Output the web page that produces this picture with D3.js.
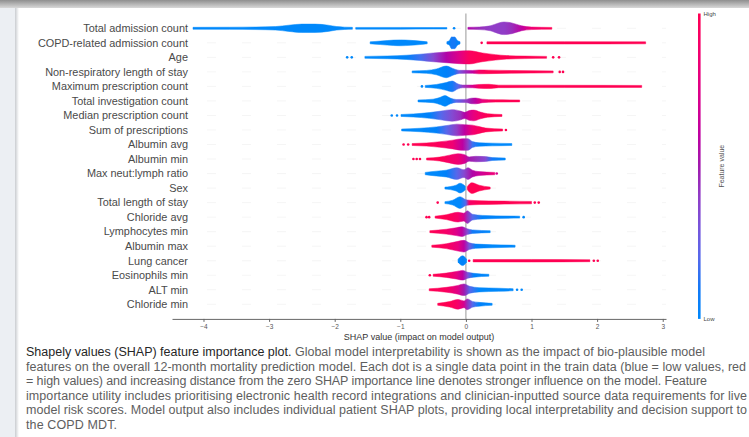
<!DOCTYPE html>
<html>
<head>
<meta charset="utf-8">
<script src="https://cdn.jsdelivr.net/npm/d3@7"></script>
<style>
html, body { margin: 0; padding: 0; background: #fff; }
svg { display: block; }
</style>
</head>
<body>
<svg width="749" height="437"></svg>
<script>
// feature names, most important first
const features = [
  "Total admission count", "COPD-related admission count", "Age",
  "Non-respiratory length of stay", "Maximum prescription count",
  "Total investigation count", "Median prescription count",
  "Sum of prescriptions", "Albumin avg", "Albumin min",
  "Max neut:lymph ratio", "Sex", "Total length of stay", "Chloride avg",
  "Lymphocytes min", "Albumin max", "Lung cancer", "Eosinophils min",
  "ALT min", "Chloride min"
];

// swarm outline per feature: segments of [shap, spread, feature value 0..1]
const swarm = [
  [ // Total admission count
    [[-4.16,1.0,0],[-3.6,1.1,0],[-3.2,1.3,0],[-2.9,1.8,0],[-2.7,3.2,0],[-2.5,4.3,0],[-2.3,4.3,0],[-2.1,3.2,0],[-1.97,1.8,0],[-1.85,1.2,0],[-1.73,1.0,0]],
    [[-1.68,0.9,0],[-1.0,0.9,0],[-0.5,0.8,0],[-0.29,0.8,0]],
    [[0.03,1.0,0.55],[0.2,1.3,0.45],[0.37,2.5,0.4],[0.5,5.5,0.4],[0.58,6.5,0.4],[0.7,5.5,0.45],[0.85,2.5,0.6],[1.0,1.3,0.85],[1.31,0.9,1]]
  ],
  [ // COPD-related admission count
    [[-1.46,1.0,0],[-1.3,1.8,0],[-1.1,2.8,0],[-1.0,3.0,0],[-0.85,2.6,0],[-0.7,1.8,0],[-0.59,1.0,0]],
    [[-0.29,1.2,0.05],[-0.25,2.5,0.05],[-0.22,6,0.1],[-0.17,6,0.1],[-0.13,2.5,0.05],[-0.09,1.2,0.05]],
    [[0.32,1.1,1],[1.5,1.2,1],[2.74,1.0,1]]
  ],
  [ // Age
    [[-1.54,1.0,0],[-1.2,1.4,0],[-0.9,2.2,0.05],[-0.7,3.2,0.15],[-0.5,4.5,0.35],[-0.3,5.5,0.55],[-0.1,6.5,0.75],[0.05,6.8,0.95],[0.25,4.5,1],[0.45,2.8,1],[0.62,1.8,1],[0.9,1.3,1],[1.23,1.0,1]]
  ],
  [ // Non-respiratory length of stay
    [[-0.82,1.0,0],[-0.6,1.5,0],[-0.45,3,0],[-0.3,6,0.05],[-0.18,3,0.1],[-0.1,1.6,0.3],[0.1,1.5,0.6],[0.2,2.0,0.9],[0.35,1.8,1],[0.7,1.4,1],[1.33,1.0,1]]
  ],
  [ // Maximum prescription count
    [[-0.62,1.0,0],[-0.45,2,0],[-0.3,4,0.05],[-0.21,5.5,0.1],[-0.12,2.5,0.2],[-0.05,1.4,0.4],[0.1,1.4,0.7],[0.2,2,0.95],[0.35,2.2,1],[0.5,1.3,1],[1.5,1.2,1],[2.68,1.0,1]]
  ],
  [ // Total investigation count
    [[-0.73,1.0,0],[-0.5,1.8,0],[-0.38,4,0],[-0.32,5.5,0],[-0.24,3,0.05],[-0.15,1.5,0.2],[0.0,1.6,0.4],[0.08,2.8,0.5],[0.15,3,0.6],[0.25,1.8,0.8],[0.45,1.2,1],[0.82,1.0,1]]
  ],
  [ // Median prescription count
    [[-0.99,1.0,0],[-0.8,1.6,0],[-0.55,3,0.05],[-0.38,4.5,0.2],[-0.21,6,0.35],[-0.08,4.5,0.45],[-0.02,3.2,0.55],[0.05,5,0.7],[0.12,5.5,0.8],[0.22,3.5,0.9],[0.33,1.8,1],[0.55,1.0,1]]
  ],
  [ // Sum of prescriptions
    [[-0.98,1.0,0],[-0.7,1.8,0],[-0.45,3.2,0.05],[-0.3,4.5,0.2],[-0.14,6,0.4],[-0.02,5.5,0.6],[0.1,5,0.85],[0.2,3.5,0.95],[0.3,2,1],[0.56,1.0,1]]
  ],
  [ // Albumin avg
    [[-0.82,1.0,1],[-0.6,1.6,1],[-0.4,2.8,0.95],[-0.2,4.5,0.85],[-0.05,6,0.6],[0.03,6,0.4],[0.1,3,0.15],[0.2,1.8,0.05],[0.4,1.4,0],[0.7,1.0,0]]
  ],
  [ // Albumin min
    [[-0.6,1.0,1],[-0.4,2,1],[-0.25,4,0.9],[-0.12,5.5,0.85],[-0.02,4.5,0.7],[0.05,2.2,0.5],[0.15,2.8,0.45],[0.3,2.5,0.35],[0.4,1.5,0.1],[0.6,1.0,0]]
  ],
  [ // Max neut:lymph ratio
    [[-0.62,1.2,0],[-0.45,2.5,0],[-0.3,3.5,0.05],[-0.14,6,0.2],[-0.03,4,0.35],[0.03,6,0.45],[0.1,3.5,0.55],[0.2,2.0,0.65],[0.44,1.2,0.85]]
  ],
  [ // Sex
    [[-0.32,1.0,0],[-0.15,3,0],[-0.09,5,0],[-0.01,2,0]],
    [[0.02,1.5,1],[0.09,5.5,1],[0.2,3,1],[0.37,1.0,1]]
  ],
  [ // Total length of stay
    [[-0.32,1.0,0],[-0.2,2.5,0],[-0.09,6,0],[0.0,3,0.2],[0.05,2.5,0.9],[0.2,2,1],[0.5,1.6,1],[1.0,1.2,1]]
  ],
  [ // Chloride avg
    [[-0.47,1.0,1],[-0.3,2.5,1],[-0.12,5,0.9],[-0.03,4,0.7],[0.02,6.5,0.45],[0.1,3,0.2],[0.25,1.8,0.05],[0.82,1.0,0]]
  ],
  [ // Lymphocytes min
    [[-0.55,1.0,1],[-0.3,2.5,0.9],[-0.15,4,0.75],[-0.06,5,0.6],[0.02,3,0.35],[0.1,1.8,0.1],[0.37,1.0,0]]
  ],
  [ // Albumin max
    [[-0.52,1.0,1],[-0.3,2.5,0.95],[-0.12,5,0.8],[-0.03,6,0.6],[0.05,3.5,0.3],[0.15,2.2,0.05],[0.4,1.6,0],[0.75,1.0,0]]
  ],
  [ // Lung cancer
    [[-0.12,1.5,0],[-0.05,5,0.05],[0.01,1.5,0]],
    [[0.11,1.2,1],[1.0,1.3,1],[1.89,1.0,1]]
  ],
  [ // Eosinophils min
    [[-0.5,1.0,1],[-0.3,2.2,0.95],[-0.15,3.8,0.8],[-0.05,5,0.6],[0.03,3,0.3],[0.12,2,0.05],[0.35,1.0,0]]
  ],
  [ // ALT min
    [[-0.56,1.0,1],[-0.3,2.5,0.95],[-0.12,4.5,0.75],[-0.03,6,0.5],[0.06,3.5,0.2],[0.2,2.2,0],[0.5,1.6,0],[0.72,1.0,0]]
  ],
  [ // Chloride min
    [[-0.43,1.0,1],[-0.25,2.8,1],[-0.12,5,0.9],[-0.03,3.5,0.7],[0.02,5.5,0.45],[0.1,3,0.2],[0.2,2,0.05],[0.4,1.0,0]]
  ]
];

// single points standing apart from the swarm: [shap, feature value]
const outliers = [
  [[-0.18,0]],
  [[0.24,1]],
  [[-1.81,0],[-1.74,0],[1.33,1],[1.42,1]],
  [[1.43,1],[1.48,1]],
  [[-0.67,0]],
  [],
  [[-1.13,0],[-1.05,0]],
  [[0.61,1]],
  [[-0.95,1],[-0.88,1]],
  [[-0.8,1],[-0.75,1],[-0.7,1]],
  [[0.47,0.7]],
  [],
  [[-0.43,1],[1.05,1],[1.11,1]],
  [[-0.6,1],[-0.56,1],[0.88,0]],
  [],
  [],
  [[0.05,1],[1.95,1],[2.01,1]],
  [[-0.55,1]],
  [[0.78,0],[0.85,0]],
  []
];

const xTicks = [-4, -3, -2, -1, 0, 1, 2, 3];
const xTitle = "SHAP value (impact on model output)";
const barTicks = ["High", "Low"];
const barTitle = "Feature value";

const captionLead = "Shapely values (SHAP) feature importance plot.";
const captionLines = [
  "Shapely values (SHAP) feature importance plot. Global model interpretability is shown as the impact of bio-plausible model",
  "features on the overall 12-month mortality prediction model. Each dot is a single data point in the train data (blue = low values, red",
  "= high values) and increasing distance from the zero SHAP importance line denotes stronger influence on the model. Feature",
  "importance utility includes prioritising electronic health record integrations and clinician-inputted source data requirements for live",
  "model risk scores. Model output also includes individual patient SHAP plots, providing local interpretability and decision support to",
  "the COPD MDT."
];

const svg = d3.select("svg");
const font = "'Liberation Sans', Arial, sans-serif";

// page background: grey strip on top, pale band on the left, white sheet
const defs = svg.append("defs");
const topGrad = defs.append("linearGradient").attr("id", "topband")
  .attr("x1", 0).attr("x2", 0).attr("y1", 0).attr("y2", 1);
topGrad.append("stop").attr("offset", 0).attr("stop-color", "#8f8f8f");
topGrad.append("stop").attr("offset", 1).attr("stop-color", "#d8d8d8");
const sideGrad = defs.append("linearGradient").attr("id", "sideshadow");
sideGrad.append("stop").attr("offset", 0).attr("stop-color", "#c9ccd0");
sideGrad.append("stop").attr("offset", 1).attr("stop-color", "#ffffff");

svg.append("rect").attr("width", 749).attr("height", 437).attr("fill", "#fff");
svg.append("rect").attr("width", 15).attr("height", 437).attr("fill", "#eceff3");
svg.append("rect").attr("x", 15).attr("y", 8).attr("width", 4).attr("height", 429).attr("fill", "url(#sideshadow)");
svg.append("rect").attr("width", 749).attr("height", 8).attr("fill", "url(#topband)");

// scales
const plotTop = 13.5, plotBottom = 318.9;
const x = d3.scaleLinear().domain([-4.48, 3.05]).range([172, 666]);
const y = d3.scalePoint().domain(features).range([28.3, 304.3]);
const spread = d3.scaleLinear().domain([0, 7]).range([0, 6.8]);
const featureColor = d3.piecewise(d3.interpolateHcl, [
  d3.hcl(266.9, 70, 54), d3.hcl(323.6, 80, 40), d3.hcl(20.3, 90, 54)
]);

// faint dashed row guides
svg.append("g").selectAll("line").data(features).join("line")
  .attr("x1", 172).attr("x2", 666)
  .attr("y1", d => y(d)).attr("y2", d => y(d))
  .attr("stroke", "#f3f3f3").attr("stroke-width", 0.8)
  .attr("stroke-dasharray", "9,26");

// zero line
svg.append("line")
  .attr("x1", x(0)).attr("x2", x(0))
  .attr("y1", plotTop).attr("y2", plotBottom)
  .attr("stroke", "#999").attr("stroke-width", 1);

// swarm bodies as shaded outlines
const swarmG = svg.append("g");
features.forEach((f, i) => {
  const cy = y(f);
  const area = d3.area()
    .x(d => x(d[0]))
    .y0(d => cy - spread(d[1]))
    .y1(d => cy + spread(d[1]))
    .curve(d3.curveMonotoneX);
  swarm[i].forEach((seg, j) => {
    const id = `sw-${i}-${j}`;
    const x0 = x(seg[0][0]), x1 = x(seg[seg.length - 1][0]);
    const g = defs.append("linearGradient").attr("id", id)
      .attr("gradientUnits", "userSpaceOnUse")
      .attr("x1", x0).attr("x2", x1).attr("y1", 0).attr("y2", 0);
    g.selectAll("stop").data(seg).join("stop")
      .attr("offset", d => (x(d[0]) - x0) / (x1 - x0))
      .attr("stop-color", d => featureColor(d[2]));
    swarmG.append("path")
      .datum(seg)
      .attr("d", area)
      .attr("fill", `url(#${id})`)
      .attr("stroke", `url(#${id})`)
      .attr("stroke-width", 0.5)
      .attr("stroke-linejoin", "round");
  });
  swarmG.selectAll(null).data(outliers[i]).join("circle")
    .attr("cx", d => x(d[0]))
    .attr("cy", cy)
    .attr("r", 1.3)
    .attr("fill", d => featureColor(d[1]));
});

// feature labels
svg.append("g").selectAll("text").data(features).join("text")
  .attr("x", 188).attr("y", d => y(d)).attr("dy", "0.35em")
  .attr("text-anchor", "end")
  .attr("font-family", font).attr("font-size", 10.9)
  .attr("fill", "#4a4a4a")
  .text(d => d);

// x axis
const axis = svg.append("g")
  .attr("transform", `translate(0,${plotBottom})`)
  .call(d3.axisBottom(x).tickValues(xTicks).tickSize(3).tickSizeOuter(0).tickPadding(2)
    .tickFormat(d3.format("d")));
axis.select(".domain").attr("stroke", "#666");
axis.selectAll(".tick line").attr("stroke", "#666");
axis.selectAll(".tick text").attr("font-family", font).attr("font-size", 6.5).attr("fill", "#555");

svg.append("text")
  .attr("x", (x.range()[0] + x.range()[1]) / 2).attr("y", 339.5)
  .attr("text-anchor", "middle")
  .attr("font-family", font).attr("font-size", 9).attr("fill", "#333")
  .text(xTitle);

// colour bar
const barGrad = defs.append("linearGradient").attr("id", "colorbar")
  .attr("x1", 0).attr("x2", 0).attr("y1", 1).attr("y2", 0);
barGrad.selectAll("stop").data(d3.range(0, 1.0001, 0.1)).join("stop")
  .attr("offset", d => d)
  .attr("stop-color", d => featureColor(d));
const barY = d3.scaleLinear().domain([0, 1]).range([plotBottom, plotTop]);
svg.append("rect")
  .attr("x", 698).attr("y", barY(1))
  .attr("width", 2.6).attr("height", barY(0) - barY(1))
  .attr("fill", "url(#colorbar)");
svg.append("g").selectAll("text").data(barTicks).join("text")
  .attr("x", 703.5).attr("y", (d, i) => barY(1 - i)).attr("dy", "0.35em")
  .attr("font-family", font).attr("font-size", 6).attr("fill", "#444")
  .text(d => d);
svg.append("text")
  .attr("transform", `translate(722,${(barY(0) + barY(1)) / 2}) rotate(-90)`)
  .attr("text-anchor", "middle").attr("dy", "0.35em")
  .attr("font-family", font).attr("font-size", 7).attr("fill", "#555")
  .text(barTitle);

// caption, each line stretched to its width in the figure
const captionWidths = [679, 720, 681, 721, 721, 91];
const cap = svg.append("g").attr("font-family", font).attr("font-size", 12.5);
captionLines.forEach((line, i) => {
  const t = cap.append("text").attr("x", 26).attr("y", 356 + i * 14.5).attr("fill", "#5e5e5e");
  if (i === 0) {
    t.append("tspan").attr("fill", "#262626").text(captionLead);
    t.append("tspan").text(line.slice(captionLead.length));
  } else {
    t.text(line);
  }
  const natural = t.node().getComputedTextLength();
  t.attr("letter-spacing", (captionWidths[i] - natural) / (line.length - 1));
});
</script>
</body>
</html>
